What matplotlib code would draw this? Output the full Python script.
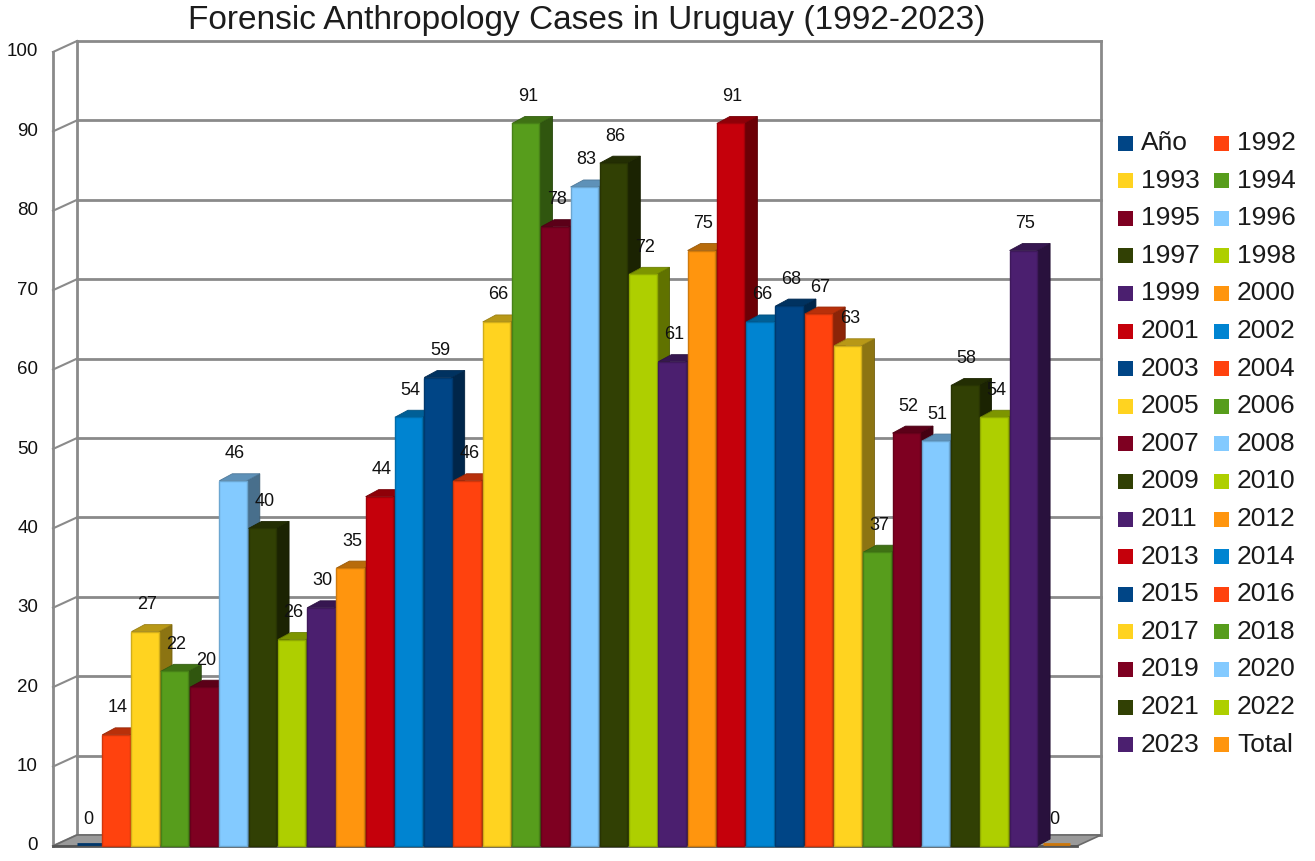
import matplotlib
matplotlib.use("Agg")
import matplotlib.pyplot as plt
from matplotlib.patches import Polygon, Rectangle
import matplotlib.colors as mcolors
import numpy as np

plt.rcParams['font.family'] = ['Liberation Sans', 'DejaVu Sans']

# ---------------- data ----------------
series = ['Año', '1992', '1993', '1994', '1995', '1996', '1997', '1998', '1999',
          '2000', '2001', '2002', '2003', '2004', '2005', '2006', '2007', '2008',
          '2009', '2010', '2011', '2012', '2013', '2014', '2015', '2016', '2017',
          '2018', '2019', '2020', '2021', '2022', '2023', 'Total']
values = [0, 14, 27, 22, 20, 46, 40, 26, 30, 35, 44, 54, 59, 46, 66, 91, 78, 83,
          86, 72, 61, 75, 91, 66, 68, 67, 63, 37, 52, 51, 58, 54, 75, 0]
palette = ['#004586', '#ff420e', '#ffd320', '#579d1c', '#7e0021', '#83caff',
           '#314004', '#aecf00', '#4b1f6f', '#ff950e', '#c5000b', '#0084d1']
y_ticks = list(range(0, 101, 10))
title = 'Forensic Anthropology Cases in Uruguay (1992-2023)'

# ---------------- layout (pixels) ----------------
W, H = 1315, 861
fig = plt.figure(figsize=(W / 100, H / 100), dpi=100)
px_left, px_right = 53, 1077
py0, py100 = 846, 52
ax = fig.add_axes([px_left / W, (H - py0) / H, (px_right - px_left) / W, (py0 - py100) / H])
pitch_px = 29.27
c0_px = 86.7
xmin = -(c0_px - px_left) / pitch_px
xmax = xmin + (px_right - px_left) / pitch_px
ax.set_xlim(xmin, xmax)
ax.set_ylim(0, 100)
ax.axis('off')
ux = 1 / pitch_px
uy = 100 / (py0 - py100)

BX, BY = 24 * ux, 11 * uy   # depth offset of back wall
grid_col = '#8a8a8a'

def shade(c, f):
    r, g, b = mcolors.to_rgb(c)
    return (r * f, g * f, b * f)

# floor
ax.add_patch(Polygon([(xmin, 0), (xmax, 0), (xmax + BX, BY), (xmin + BX, BY)],
                     closed=True, fc='#9a9a9a', ec='#6a6a6a', lw=1.2, clip_on=False, zorder=1))
ax.plot([xmin, xmax], [0, 0], color='#555555', lw=2, clip_on=False, zorder=1.1)

# back wall grid
for t in y_ticks:
    ax.plot([xmin + BX, xmax + BX], [t + BY, t + BY], color=grid_col, lw=2, clip_on=False, zorder=0.5)
    ax.plot([xmin, xmin + BX], [t, t + BY], color=grid_col, lw=1.5, clip_on=False, zorder=0.5)
    ax.text(xmin - 15 * ux, t, str(t), ha='right', va='center', fontsize=13.5,
            color='#111111', clip_on=False)
ax.plot([xmin + BX, xmin + BX], [BY, 100 + BY], color=grid_col, lw=2, clip_on=False, zorder=0.5)
ax.plot([xmax + BX, xmax + BX], [BY, 100 + BY], color=grid_col, lw=2, clip_on=False, zorder=0.5)
ax.plot([xmin, xmin], [0, 100], color=grid_col, lw=2, clip_on=False, zorder=0.5)

# bars
w = 27.5 * ux
ddx, ddy = 13 * ux, 7 * uy
for i, (name, v) in enumerate(zip(series, values)):
    col = palette[i % len(palette)]
    z = 2 + i * 0.01
    L, R = i - w / 2, i + w / 2
    if v > 0:
        ax.add_patch(Polygon([(R, 0), (R, v), (R + ddx, v + ddy), (R + ddx, ddy)], closed=True,
                             fc=shade(col, 0.55), ec=shade(col, 0.45), lw=0.6, zorder=z, clip_on=False))
        ax.add_patch(Polygon([(L, v), (R, v), (R + ddx, v + ddy), (L + ddx, v + ddy)], closed=True,
                             fc=shade(col, 0.72), ec=shade(col, 0.6), lw=0.6, zorder=z, clip_on=False))
        ax.add_patch(Rectangle((L, 0), w, v, fc=col, ec=shade(col, 0.82), lw=1.0, zorder=z, clip_on=False))
    else:
        ax.plot([L + ddx * 0.3, R + ddx * 0.3], [v + ddy * 0.35] * 2, color=shade(col, 0.8),
                lw=2, zorder=z, clip_on=False, solid_capstyle='butt')
    ax.text(i + 2 * ux, v + 27 * uy, str(v), ha='center', va='center', fontsize=13,
            color='#111111', zorder=100, clip_on=False)

# title
fig.text(587 / W, 1 - 21 / H, title, ha='center', va='center', fontsize=24, color='#1c1c1c')

# legend (two columns, row-major)
for k, (name, _) in enumerate(zip(series, values)):
    col = palette[k % len(palette)]
    r, ci = divmod(k, 2)
    xs = [1118, 1214][ci]
    yc = 143 + 37.6 * r
    fig.patches.append(Rectangle((xs / W, 1 - (yc + 7.5) / H), 15 / W, 15 / H,
                                 transform=fig.transFigure, fc=col, ec='none'))
    fig.text((xs + 23) / W, 1 - yc / H, name, ha='left', va='center', fontsize=19, color='#1a1a1a')

fig.savefig('out.png', dpi=100)
